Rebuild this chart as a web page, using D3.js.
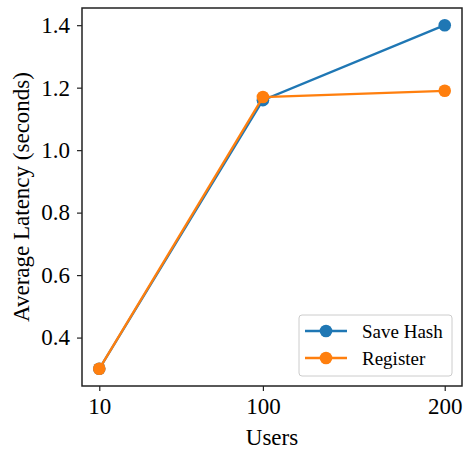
<!DOCTYPE html>
<html>
<head>
<meta charset="utf-8">
<script src="https://cdn.jsdelivr.net/npm/d3@7"></script>
<style>
  body { margin: 0; background: #fff; }
  svg text { font-family: "Liberation Serif", "DejaVu Serif", serif; fill: #000; }
</style>
</head>
<body>
<div id="chart"></div>
<script>
const users = [10, 100, 200];
const saveHash = [0.30, 1.16, 1.40];
const register = [0.30, 1.17, 1.19];
const yTicks = [0.4, 0.6, 0.8, 1.0, 1.2, 1.4];

const W = 463, H = 449;
const margin = {left: 82, top: 8, right: 1, bottom: 63};

const svg = d3.select('#chart')
    .append('svg')
    .attr('width', W)
    .attr('height', H);

// numeric x with matplotlib-like 5% padding
const x = d3.scaleLinear()
    .domain([0.5, 209.5])
    .range([margin.left, W - margin.right]);

const y = d3.scaleLinear()
    .domain([0.245, 1.455])
    .range([H - margin.bottom, margin.top]);

const series = [
    {name: 'Save Hash', values: saveHash, color: '#1f77b4'},
    {name: 'Register', values: register, color: '#ff7f0e'}
];

const line = d3.line()
    .x((d, i) => x(users[i]))
    .y(d => y(d));

series.forEach(s => {
    svg.append('path')
        .datum(s.values)
        .attr('fill', 'none')
        .attr('stroke', s.color)
        .attr('stroke-width', 2.3)
        .attr('d', line);

    svg.append('g')
        .selectAll('circle')
        .data(s.values)
        .enter()
        .append('circle')
        .attr('cx', (d, i) => x(users[i]))
        .attr('cy', d => y(d))
        .attr('r', 6.3)
        .attr('fill', s.color);
});

// axes
const xAxis = svg.append('g')
    .attr('transform', `translate(0,${H - margin.bottom})`)
    .call(d3.axisBottom(x).tickValues(users).tickFormat(d3.format('d')).tickSize(5).tickPadding(5));

const yAxis = svg.append('g')
    .attr('transform', `translate(${margin.left},0)`)
    .call(d3.axisLeft(y).tickValues(yTicks).tickFormat(d3.format('.1f')).tickSize(5).tickPadding(7));

[xAxis, yAxis].forEach(a => {
    a.select('.domain').remove();
    a.selectAll('.tick line').attr('stroke', '#222').attr('stroke-width', 1.2);
    a.selectAll('.tick text').style('font-size', '23px').attr('fill', '#000');
});
xAxis.selectAll('.tick text').attr('dy', '0.78em');

// frame
svg.append('rect')
    .attr('x', margin.left)
    .attr('y', margin.top)
    .attr('width', W - margin.right - margin.left)
    .attr('height', H - margin.bottom - margin.top)
    .attr('fill', 'none')
    .attr('stroke', '#222')
    .attr('stroke-width', 1.5);

// labels
svg.append('text')
    .attr('x', (margin.left + W - margin.right) / 2)
    .attr('y', 445)
    .attr('text-anchor', 'middle')
    .style('font-size', '23px')
    .text('Users');

svg.append('text')
    .attr('transform', `translate(29,${(margin.top + H - margin.bottom) / 2}) rotate(-90)`)
    .attr('text-anchor', 'middle')
    .style('font-size', '23px')
    .text('Average Latency (seconds)');

// legend
const legend = svg.append('g').attr('transform', 'translate(299,315)');
legend.append('rect')
    .attr('width', 153)
    .attr('height', 61)
    .attr('rx', 3)
    .attr('fill', '#fff')
    .attr('fill-opacity', 0.8)
    .attr('stroke', '#ccc');

series.forEach((s, i) => {
    const ly = 16 + i * 27;
    legend.append('line')
        .attr('x1', 6).attr('x2', 48)
        .attr('y1', ly).attr('y2', ly)
        .attr('stroke', s.color)
        .attr('stroke-width', 2.3);
    legend.append('circle')
        .attr('cx', 27).attr('cy', ly)
        .attr('r', 6.3)
        .attr('fill', s.color);
    legend.append('text')
        .attr('x', 63)
        .attr('y', ly)
        .attr('dy', '0.35em')
        .style('font-size', '19px')
        .text(s.name);
});
</script>
</body>
</html>
